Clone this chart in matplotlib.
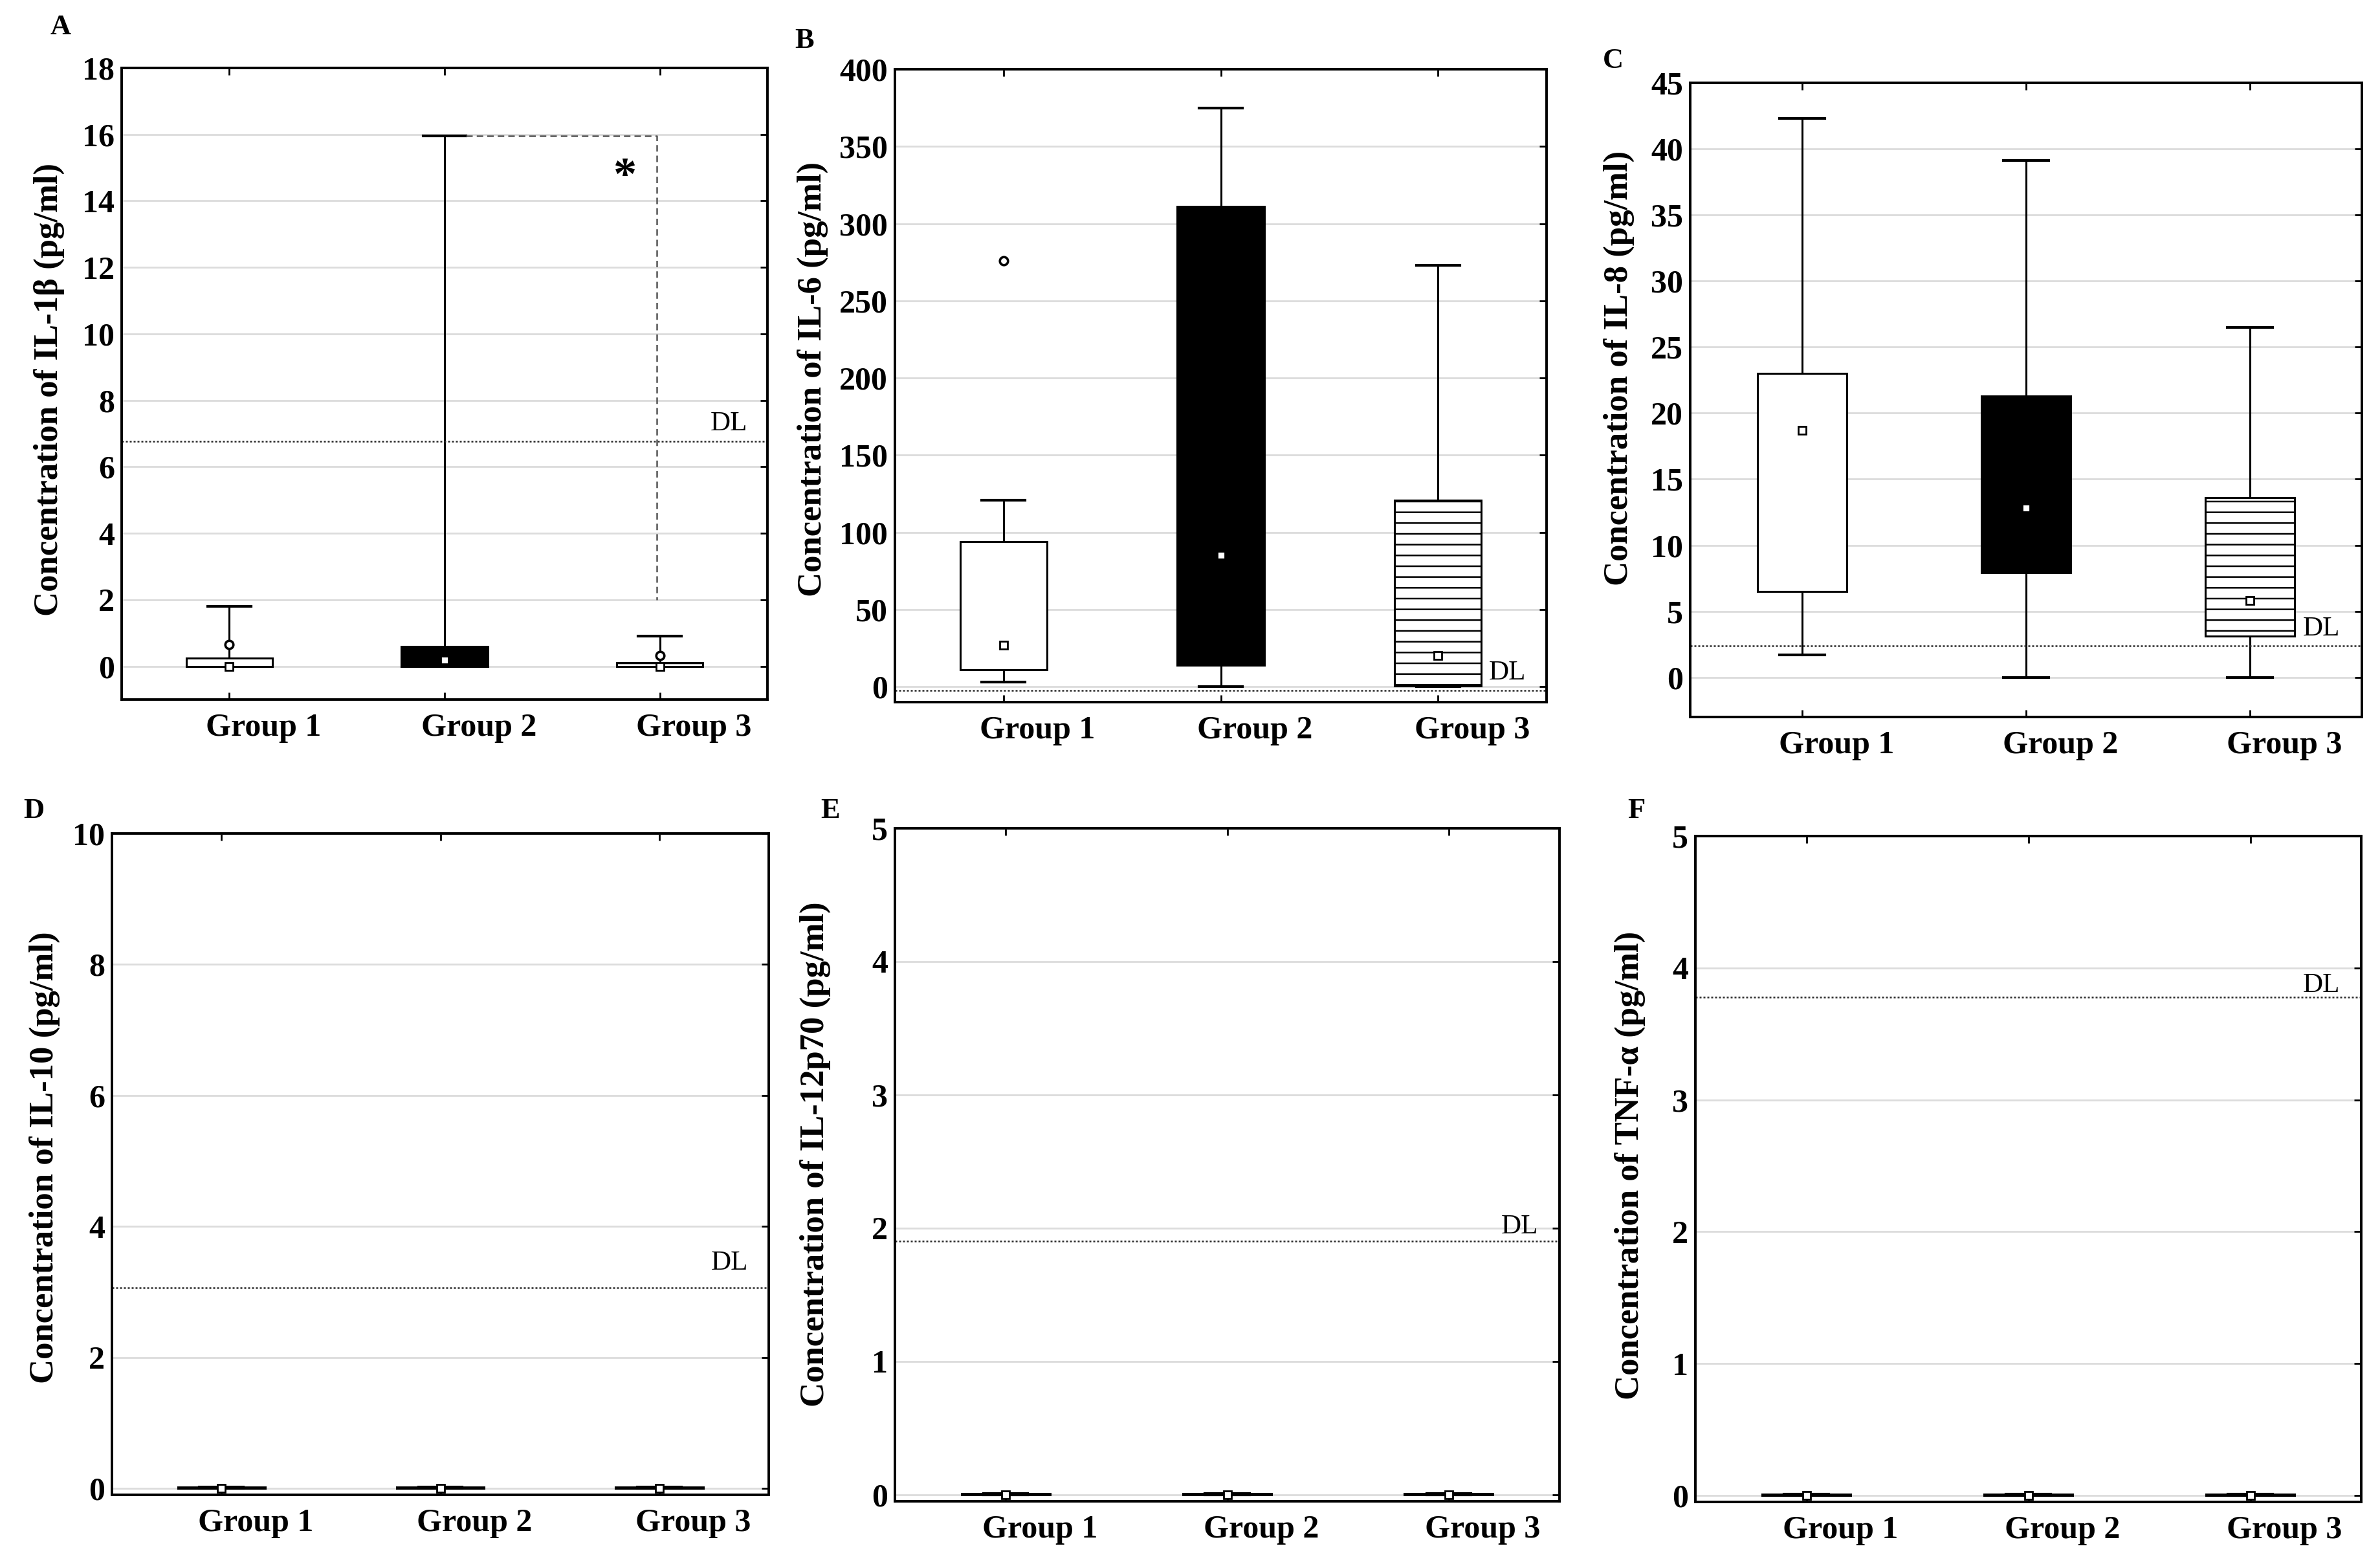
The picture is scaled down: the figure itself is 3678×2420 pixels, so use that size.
import matplotlib
matplotlib.use("Agg")
import matplotlib.pyplot as plt

plt.rcParams['font.family'] = ['Liberation Serif', 'DejaVu Serif']
plt.rcParams['hatch.linewidth'] = 0.9

# ---------------- data ----------------
groups = ["Group 1", "Group 2", "Group 3"]
positions = [1, 2, 3]

panel_letters = ["A", "B", "C", "D", "E", "F"]
ylabels = ["Concentration of IL-1β (pg/ml)",
           "Concentration of IL-6 (pg/ml)",
           "Concentration of IL-8 (pg/ml)",
           "Concentration of IL-10 (pg/ml)",
           "Concentration of IL-12p70 (pg/ml)",
           "Concentration of TNF-α (pg/ml)"]

# IL-1beta
il1b_whislo = [0.0, 0.0, 0.0]
il1b_q1 = [0.0, 0.0, 0.0]
il1b_med = [0.0, 0.18, 0.0]
il1b_q3 = [0.25, 0.6, 0.1]
il1b_whishi = [1.8, 15.95, 0.9]
il1b_outliers = [[0.65], [], [0.32]]

# IL-6
il6_whislo = [3.0, 0.0, 0.0]
il6_q1 = [11.0, 14.0, 0.5]
il6_med = [27.0, 85.0, 20.0]
il6_q3 = [94.0, 311.0, 121.0]
il6_whishi = [121.0, 375.0, 273.0]
il6_outliers = [[276.0], [], []]

# IL-8
il8_whislo = [1.7, 0.0, 0.0]
il8_q1 = [6.5, 7.9, 3.1]
il8_med = [18.7, 12.8, 5.8]
il8_q3 = [23.0, 21.3, 13.6]
il8_whishi = [42.3, 39.1, 26.5]
il8_outliers = [[], [], []]

# IL-10
il10_whislo = [0.0, 0.0, 0.0]
il10_q1 = [0.0, 0.0, 0.0]
il10_med = [0.0, 0.0, 0.0]
il10_q3 = [0.02, 0.02, 0.02]
il10_whishi = [0.02, 0.02, 0.02]
il10_outliers = [[], [], []]

# IL-12p70
il12_whislo = [0.0, 0.0, 0.0]
il12_q1 = [0.0, 0.0, 0.0]
il12_med = [0.0, 0.0, 0.0]
il12_q3 = [0.01, 0.01, 0.01]
il12_whishi = [0.01, 0.01, 0.01]
il12_outliers = [[], [], []]

# TNF-alpha
tnf_whislo = [0.0, 0.0, 0.0]
tnf_q1 = [0.0, 0.0, 0.0]
tnf_med = [0.0, 0.0, 0.0]
tnf_q3 = [0.01, 0.01, 0.01]
tnf_whishi = [0.01, 0.01, 0.01]
tnf_outliers = [[], [], []]

# detection limits
detection_limits = [6.76, -2.5, 2.4, 3.06, 1.9, 3.78]
dl_label_y = [7.3, 9.0, 3.66, 3.44, 2.01, 3.87]

y_limits = [(-1, 18), (-10, 400), (-3, 45), (-0.1, 10), (-0.05, 5), (-0.05, 5)]
y_ticks = [list(range(0, 19, 2)), list(range(0, 401, 50)), list(range(0, 46, 5)),
           list(range(0, 11, 2)), list(range(0, 6)), list(range(0, 6))]

# significance bracket (panel A): Group 2 vs Group 3
sig_y_top = 15.95
sig_y_bottom = 2.0
sig_x_start = 2.1
sig_x_end = 2.985
sig_star_x = 2.84
sig_star_y = 14.7

panel_data = [
    (il1b_whislo, il1b_q1, il1b_med, il1b_q3, il1b_whishi, il1b_outliers),
    (il6_whislo, il6_q1, il6_med, il6_q3, il6_whishi, il6_outliers),
    (il8_whislo, il8_q1, il8_med, il8_q3, il8_whishi, il8_outliers),
    (il10_whislo, il10_q1, il10_med, il10_q3, il10_whishi, il10_outliers),
    (il12_whislo, il12_q1, il12_med, il12_q3, il12_whishi, il12_outliers),
    (tnf_whislo, tnf_q1, tnf_med, tnf_q3, tnf_whishi, tnf_outliers),
]

# ---------------- layout ----------------
W, H = 3678, 2420
DPI = 200
fig = plt.figure(figsize=(W / DPI, H / DPI), dpi=DPI)

# axes boxes in pixels: left, right, top, bottom
axes_px = [(188, 1186, 105, 1081), (1383, 2390, 107, 1085), (2612, 3650, 128, 1108),
           (173, 1188, 1288, 2310), (1383, 2410, 1280, 2320), (2620, 3649, 1292, 2321)]
letter_px = [(94, 42), (1243, 63), (2493, 94), (52, 1253), (1283, 1253), (2529, 1253)]
ylabel_x = [-0.112, -0.126, -0.106, -0.103, -0.12, -0.098]
ylabel_y = [0.491, 0.51, 0.55, 0.51, 0.516, 0.505]

fills = ['white', 'black', 'white']
hatches = [None, None, '--']

for i in range(6):
    l, r, t, b = axes_px[i]
    ax = fig.add_axes([l / W, 1 - b / H, (r - l) / W, (b - t) / H])
    whislo, q1, med, q3, whishi, outl = panel_data[i]
    stats = [dict(whislo=whislo[k], q1=q1[k], med=med[k], q3=q3[k],
                  whishi=whishi[k], fliers=outl[k]) for k in range(3)]
    res = ax.bxp(stats, positions=positions, widths=0.4, capwidths=0.2,
                 patch_artist=True, showfliers=True, manage_ticks=False,
                 boxprops=dict(linewidth=1.1, edgecolor='black'),
                 whiskerprops=dict(linewidth=1.1, color='black'),
                 capprops=dict(linewidth=1.5, color='black'),
                 medianprops=dict(linewidth=0, alpha=0),
                 flierprops=dict(marker='o', markersize=4.5, markerfacecolor='white',
                                 markeredgecolor='black', markeredgewidth=1.3,
                                 linestyle='none'))
    for k, box in enumerate(res['boxes']):
        box.set_facecolor(fills[k])
        if hatches[k]:
            box.set_hatch(hatches[k])
        box.set_zorder(3)
    ax.plot(positions, med, linestyle='none', marker='s', markersize=4,
            markerfacecolor='white', markeredgecolor='black', markeredgewidth=1.0,
            zorder=5)

    # detection limit
    ax.axhline(detection_limits[i], color='#2a2a2a', linewidth=0.9,
               linestyle=(0, (1.2, 1.2)), zorder=2)
    ax.text(3.32, dl_label_y[i], "DL", fontsize=15.5, ha='center', va='center')

    ax.set_xlim(0.5, 3.5)
    ax.set_ylim(*y_limits[i])
    ax.set_yticks(y_ticks[i])
    ax.set_yticklabels([str(v) for v in y_ticks[i]], fontsize=18, fontweight='bold')
    ax.set_xticks(positions)
    ax.set_xticklabels([])
    for k in range(3):
        ax.annotate(groups[k], xy=(positions[k], 0), xycoords=ax.get_xaxis_transform(),
                    xytext=(19, -7.5), textcoords='offset points',
                    ha='center', va='top', fontsize=18, fontweight='bold',
                    annotation_clip=False)

    ax.set_axisbelow(True)
    ax.yaxis.grid(True, color='#dcdcdc', linewidth=1.0)
    ax.xaxis.grid(False)
    ax.tick_params(axis='x', direction='in', top=True, bottom=True, length=4,
                   width=1.0, pad=8)
    ax.tick_params(axis='y', direction='in', left=False, right=True, length=4,
                   width=1.0, pad=4)
    for sp in ax.spines.values():
        sp.set_linewidth(1.4)
        sp.set_color('black')

    ax.text(ylabel_x[i], ylabel_y[i], ylabels[i], transform=ax.transAxes,
            rotation=90, ha='center', va='center', fontsize=19, fontweight='bold')

    lx, ly = letter_px[i]
    fig.text(lx / W, 1 - ly / H, panel_letters[i], fontsize=16, fontweight='bold',
             ha='center', va='center')

    if i == 0:
        ax.plot([sig_x_start, sig_x_end, sig_x_end],
                [sig_y_top, sig_y_top, sig_y_bottom],
                color='#555555', linewidth=0.9, linestyle=(0, (4, 2.5)), zorder=2)
        ax.text(sig_star_x, sig_star_y, "*", fontsize=26, fontweight='bold',
                ha='center', va='center')

fig.savefig("out.png", dpi=DPI)
